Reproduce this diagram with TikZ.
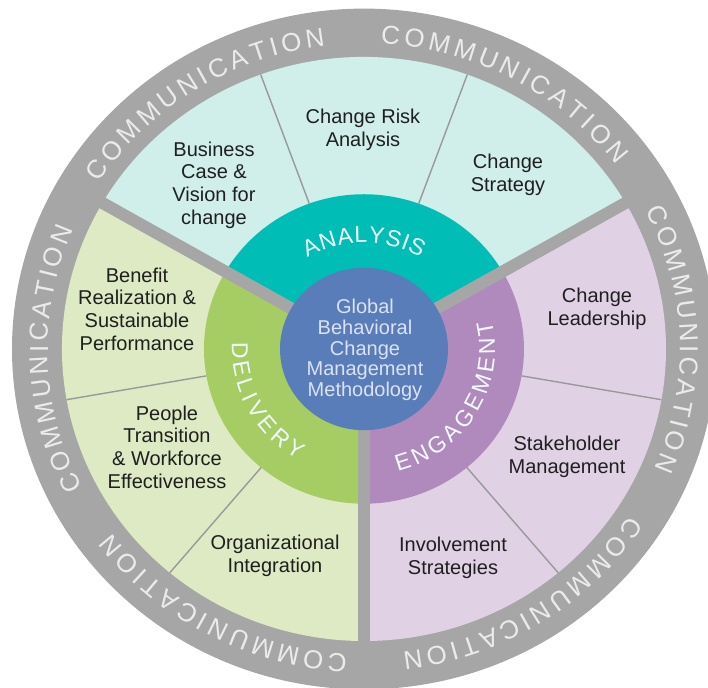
\documentclass[tikz,border=0pt]{standalone}
\usepackage{fontspec}
\setmainfont{Liberation Sans}
\usetikzlibrary{decorations.text}
\definecolor{ringgray}{HTML}{A6A6A6}
\definecolor{anaLight}{HTML}{D0EEEA}
\definecolor{anaDark}{HTML}{00BDB6}
\definecolor{delLight}{HTML}{DDEAC4}
\definecolor{delDark}{HTML}{A6CD64}
\definecolor{engLight}{HTML}{E0D2E4}
\definecolor{engDark}{HTML}{B08ABC}
\definecolor{coreBlue}{HTML}{587DB9}
\definecolor{coreText}{HTML}{DCE1F5}
\definecolor{commText}{HTML}{EBEBEB}
\tikzset{
  box/.style={align=center,font=\fontsize{10}{11.3}\selectfont,text=black!88},
  core/.style={align=center,font=\fontsize{10}{10.3}\selectfont,text=coreText},
  subline/.style={draw=gray!80,line width=0.7pt},
  divider/.style={draw=ringgray,line width=6pt},
  ringword/.style={decorate,decoration={text along path,text align={fit to path},text color=white!95!cyan,
    text={|\fontsize{11.5}{13}\selectfont|#1}}},
  commword/.style={decorate,decoration={text along path,text align={fit to path},text color=commText,
    text={|\fontsize{13}{15}\selectfont|COMMUNICATION}}}
}
\begin{document}
\begin{tikzpicture}[x=0.5pt,y=0.5pt]
\useasboundingbox (-364,-339) rectangle (344,349);
\begin{scope}[yscale=0.967]
\fill[ringgray] (0,0) circle (352);
\foreach \a/\lc/\dc in {30/anaLight/anaDark,150/delLight/delDark,270/engLight/engDark}{
  \fill[\lc] (0,0) -- (\a:302) arc[start angle=\a,delta angle=120,radius=302] -- cycle;
  \fill[\dc] (0,0) -- (\a:160) arc[start angle=\a,delta angle=120,radius=160] -- cycle;
}
\foreach \a in {70,110,190,230,310,350}
  \draw[subline] (\a:160) -- (\a:302);
\foreach \a in {30,150,270}
  \draw[divider] (0,0) -- (\a:306);
\fill[coreBlue] (0,0) circle (84);
\path[ringword=ANALYSIS] (121:110) arc[start angle=121,end angle=59,radius=110];
\path[ringword=DELIVERY] (177:132) arc[start angle=177,end angle=240,radius=132];
\path[ringword=ENGAGEMENT] (285:131) arc[start angle=285,end angle=373,radius=131];
\foreach \c in {2,62,122,182,242,302}
  \path[commword] (\c+25:316) arc[start angle=\c+25,delta angle=-50,radius=316];
\end{scope}
\node[core] (method) at (1,-1) {Global\\Behavioral\\Change\\Management\\Methodology};
\node[box] (risk) at (-1,219) {Change Risk\\Analysis};
\node[box] (business) at (-150,164) {Business\\Case \&\\Vision for\\change};
\node[box] (strategy) at (144,174) {Change\\Strategy};
\node[box] (benefit) at (-227,40) {Benefit\\Realization \&\\Sustainable\\Performance};
\node[box] (people) at (-197,-98) {People\\Transition\\\& Workforce\\Effectiveness};
\node[box] (integration) at (-89,-207) {Organizational\\Integration};
\node[box] (leadership) at (233,40) {Change\\Leadership};
\node[box] (stakeholder) at (203,-108) {Stakeholder\\Management};
\node[box] (involvement) at (89,-209) {Involvement\\Strategies};
\end{tikzpicture}
\end{document}
